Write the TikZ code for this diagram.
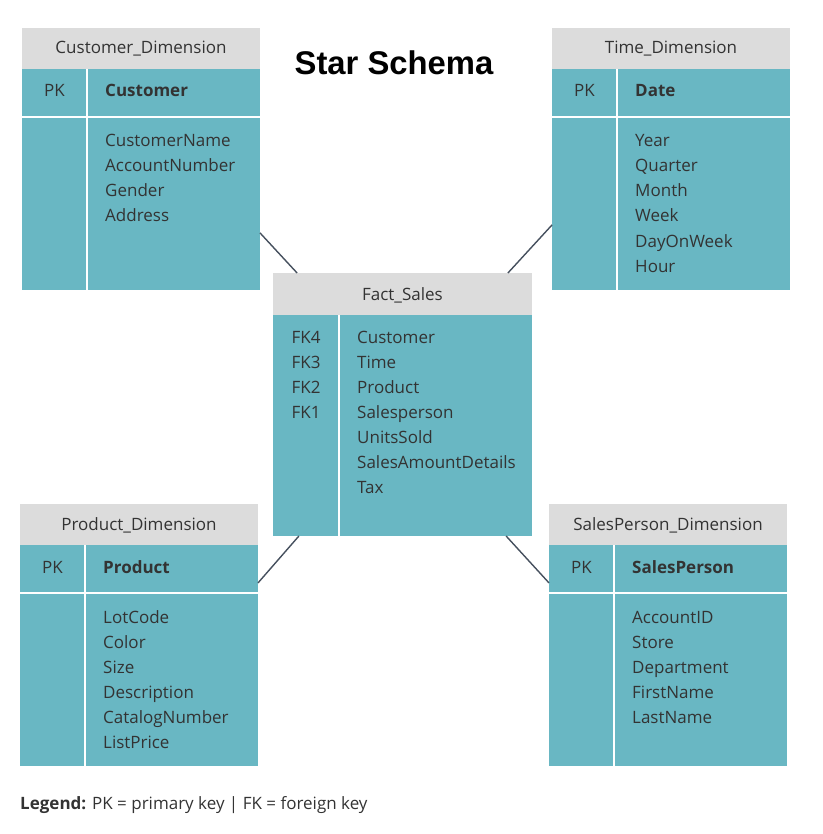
\documentclass[tikz,border=0pt]{standalone}
\usepackage{fontspec}
\setmainfont{Open Sans}
\newfontfamily\titlefont{Liberation Sans}
\usetikzlibrary{calc,positioning}

\definecolor{tablecol}{HTML}{69B7C3}
\definecolor{headcol}{HTML}{DCDCDC}
\definecolor{inkcol}{HTML}{333333}
\definecolor{linkcol}{HTML}{46505E}

\tikzset{
  tblhead/.style={fill=headcol, anchor=north west, minimum width=238, minimum height=41,
    inner sep=0, outer sep=0},
  tblrow/.style={fill=tablecol, anchor=north west, minimum width=238, inner sep=0, outer sep=0},
  sepline/.style={white, line width=2pt},
  headtext/.style={anchor=base, inner sep=0, text=inkcol, font=\fontsize{17}{20}\selectfont},
  keytext/.style={anchor=base, inner sep=0, text=inkcol, font=\fontsize{17}{20}\selectfont},
  pktext/.style={anchor=base west, inner sep=0, text=inkcol, font=\fontsize{17}{20}\selectfont\bfseries},
  fieldtext/.style={anchor=base west, inner sep=0, text=inkcol, font=\fontsize{17}{20}\selectfont},
  link/.style={linkcol, line width=1.4pt},
}

\begin{document}
\begin{tikzpicture}[x=1pt, y=-1pt]
    \useasboundingbox (0,0) rectangle (822,834);

    \node[anchor=base, inner sep=0, font=\titlefont\fontsize{32.8}{36}\selectfont\bfseries] (title) at (394,75) {Star Schema};

    % Customer_Dimension
    \node[tblhead] (chead) at (22,28) {};
    \node[headtext] (chname) at ($(chead.north)+(0,26)$) {Customer\_Dimension};
    \node[tblrow, minimum height=48] (cpk) at (chead.south west) {};
    \node[tblrow, minimum height=173] (cbody) at (cpk.south west) {};
    \draw[sepline] (cpk.south west) -- (cpk.south east);
    \draw[sepline] ($(cpk.north west)+(65,0)$) -- ($(cbody.south west)+(65,0)$);
    \node[keytext] (ckey) at ($(cpk.north west)+(32.5,28)$) {PK};
    \node[pktext] (cpkname) at ($(cpk.north west)+(83,28)$) {Customer};
    \foreach \f [count=\i] in {CustomerName,AccountNumber,Gender,Address}
        \node[fieldtext] (cf\i) at ($(cbody.north west)+(83,{5+25*\i})$) {\f};

    % Time_Dimension
    \node[tblhead] (thead) at (552,28) {};
    \node[headtext] (thname) at ($(thead.north)+(0,26)$) {Time\_Dimension};
    \node[tblrow, minimum height=48] (tpk) at (thead.south west) {};
    \node[tblrow, minimum height=173] (tbody) at (tpk.south west) {};
    \draw[sepline] (tpk.south west) -- (tpk.south east);
    \draw[sepline] ($(tpk.north west)+(65,0)$) -- ($(tbody.south west)+(65,0)$);
    \node[keytext] (tkey) at ($(tpk.north west)+(32.5,28)$) {PK};
    \node[pktext] (tpkname) at ($(tpk.north west)+(83,28)$) {Date};
    \foreach \f [count=\i] in {Year,Quarter,Month,Week,DayOnWeek,Hour}
        \node[fieldtext] (tf\i) at ($(tbody.north west)+(83,{5+25*\i})$) {\f};

    % Product_Dimension
    \node[tblhead] (phead) at (20,504) {};
    \node[headtext] (phname) at ($(phead.north)+(0,26)$) {Product\_Dimension};
    \node[tblrow, minimum height=48] (ppk) at (phead.south west) {};
    \node[tblrow, minimum height=173] (pbody) at (ppk.south west) {};
    \draw[sepline] (ppk.south west) -- (ppk.south east);
    \draw[sepline] ($(ppk.north west)+(65,0)$) -- ($(pbody.south west)+(65,0)$);
    \node[keytext] (pkey) at ($(ppk.north west)+(32.5,28)$) {PK};
    \node[pktext] (ppkname) at ($(ppk.north west)+(83,28)$) {Product};
    \foreach \f [count=\i] in {LotCode,Color,Size,Description,CatalogNumber,ListPrice}
        \node[fieldtext] (pf\i) at ($(pbody.north west)+(83,{5+25*\i})$) {\f};

    % SalesPerson_Dimension
    \node[tblhead] (shead) at (549,504) {};
    \node[headtext] (shname) at ($(shead.north)+(0,26)$) {SalesPerson\_Dimension};
    \node[tblrow, minimum height=48] (spk) at (shead.south west) {};
    \node[tblrow, minimum height=173] (sbody) at (spk.south west) {};
    \draw[sepline] (spk.south west) -- (spk.south east);
    \draw[sepline] ($(spk.north west)+(65,0)$) -- ($(sbody.south west)+(65,0)$);
    \node[keytext] (skey) at ($(spk.north west)+(32.5,28)$) {PK};
    \node[pktext] (spkname) at ($(spk.north west)+(83,28)$) {SalesPerson};
    \foreach \f [count=\i] in {AccountID,Store,Department,FirstName,LastName}
        \node[fieldtext] (sf\i) at ($(sbody.north west)+(83,{5+25*\i})$) {\f};

    % Fact_Sales
    \node[tblhead, minimum width=259, minimum height=42] (fhead) at (273,273) {};
    \node[headtext] (fhname) at ($(fhead.north)+(0,27)$) {Fact\_Sales};
    \node[tblrow, minimum width=259, minimum height=221] (fbody) at (fhead.south west) {};
    \draw[sepline] ($(fbody.north west)+(66,0)$) -- ($(fbody.south west)+(66,0)$);
    \foreach \k [count=\i] in {FK4,FK3,FK2,FK1}
        \node[keytext] (fk\i) at ($(fbody.north west)+(33,{3+25*\i})$) {\k};
    \foreach \f [count=\i] in {Customer,Time,Product,Salesperson,UnitsSold,SalesAmountDetails,Tax}
        \node[fieldtext] (ff\i) at ($(fbody.north west)+(84,{3+25*\i})$) {\f};

    % links
    \draw[link] ($(cbody.north east)!0.67!(cbody.south east)$) -- ($(fhead.north west)!0.093!(fhead.north east)$);
    \draw[link] ($(tbody.north west)!0.624!(tbody.south west)$) -- ($(fhead.north west)!0.907!(fhead.north east)$);
    \draw[link] ($(ppk.north east)!0.79!(ppk.south east)$) -- ($(fbody.south west)!0.10!(fbody.south east)$);
    \draw[link] ($(spk.north west)!0.79!(spk.south west)$) -- ($(fbody.south west)!0.90!(fbody.south east)$);

    \node[fieldtext] (legend) at (20,809) {\textbf{Legend:} PK = primary key | FK = foreign key};
\end{tikzpicture}
\end{document}
